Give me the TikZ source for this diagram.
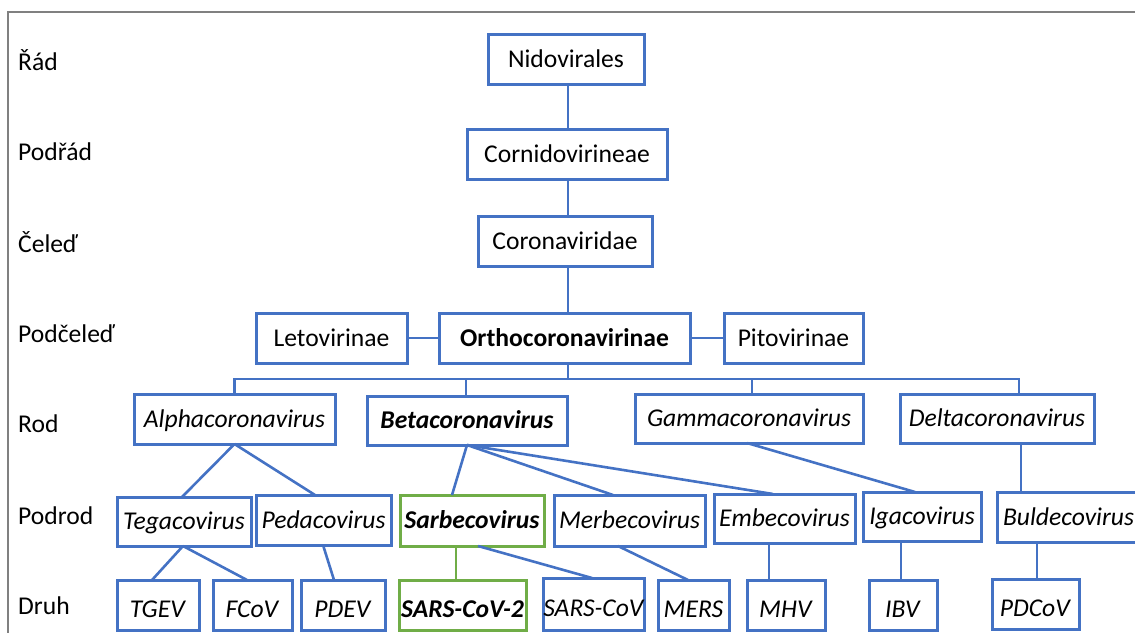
\documentclass[tikz,border=0pt]{standalone}
\usepackage{fontspec}
\setmainfont{Carlito}
\usetikzlibrary{calc}
\definecolor{bl}{HTML}{4472C4}
\definecolor{gr}{HTML}{70AD47}
\definecolor{fr}{HTML}{808080}
\tikzset{
  box/.style={draw=bl, line width=3pt, inner sep=0pt, outer sep=0pt, fill=white,
    font=\fontsize{25.6}{30}\selectfont, text height=19pt, text depth=3pt},
  gbox/.style={box, draw=gr},
  druhbox/.style={text height=24pt, text depth=0pt},
  conn/.style={draw=bl, line width=2.6pt},
  gconn/.style={draw=gr, line width=2.6pt},
  lvl/.style={anchor=base west, inner sep=0pt, font=\fontsize{25.6}{30}\selectfont},
  frame/.style={draw=fr, line width=1.8pt}
}
\newcommand{\bx}[7][box]{% style, name, cx, cy, w, h, text
  \node[#1, minimum width=#5pt, minimum height=#6pt] (#2) at (#3,#4) {#7};}
\begin{document}
\begin{tikzpicture}[x=1pt,y=-1pt]
\useasboundingbox (0,0) rectangle (1135,632);
\coordinate (fa) at (8,640);
\coordinate (fb) at (8,12);
\coordinate (fc) at (1140,12);
\draw[frame] (fa) -- (fb) -- (fc);

% level labels
\node[lvl] (l1) at (18,70) {Řád};
\node[lvl] (l2) at (18,160) {Podřád};
\node[lvl] (l3) at (18,252) {Čeleď};
\node[lvl] (l4) at (18,342) {Podčeleď};
\node[lvl] (l5) at (18,432) {Rod};
\node[lvl] (l6) at (18,524) {Podrod};
\node[lvl] (l7) at (18,614) {Druh};

% boxes
\bx{nido}{566}{59}{156}{50}{Nidovirales}
\bx{corni}{567}{154}{200}{50}{Cornidovirineae}
\bx{corona}{565}{241}{174}{50}{Coronaviridae}
\bx{leto}{331.5}{338}{151}{50}{Letovirinae}
\bx{ortho}{564.5}{338}{251}{50}{\textbf{Orthocoronavirinae}}
\bx{pito}{793.5}{338}{139}{50}{Pitovirinae}
\bx{alpha}{234.5}{419}{201}{50}{\textit{Alphacoronavirus}}
\bx{beta}{467}{420.5}{200}{49}{\textbf{\textit{Betacoronavirus}}}
\bx{gamma}{749}{418.5}{228}{49}{\textit{Gammacoronavirus}}
\bx{delta}{997}{418.5}{194}{49}{\textit{Deltacoronavirus}}
\bx{tega}{184}{521.5}{134}{49}{\textit{Tegacovirus}}
\bx{peda}{323.5}{520}{135}{50}{\textit{Pedacovirus}}
\bx[gbox]{sarbe}{472}{520.5}{144}{51}{\textbf{\textit{Sarbecovirus}}}
\bx{merbe}{629.5}{520.5}{151}{51}{\textit{Merbecovirus}}
\bx{embe}{784.5}{518.5}{141}{49}{\textit{Embecovirus}}
\bx{iga}{922}{516.5}{118}{49}{\textit{Igacovirus}}
\bx{bulde}{1068.5}{517}{143}{50}{\textit{Buldecovirus}}
\bx[box,druhbox]{tgev}{158}{605}{82}{50}{\textit{TGEV}}
\bx[box,druhbox]{fcov}{252.5}{605}{79}{50}{\textit{FCoV}}
\bx[box,druhbox]{pdev}{343}{605}{84}{50}{\textit{PDEV}}
\bx[gbox,druhbox]{sars2}{462.5}{605}{127}{50}{\textbf{\textit{SARS-CoV-2}}}
\bx[box,druhbox]{sars}{594}{604}{100}{52}{\textit{SARS-CoV}}
\bx[box,druhbox]{mers}{693.5}{605}{71}{50}{\textit{MERS}}
\bx[box,druhbox]{mhv}{786}{605}{78}{50}{\textit{MHV}}
\bx[box,druhbox]{ibv}{903}{605}{68}{50}{\textit{IBV}}
\bx[box,druhbox]{pdcov}{1035.5}{604}{87}{50}{\textit{PDCoV}}

% upper spine
\draw[conn] ([xshift=2pt]nido.south) -- ([xshift=1pt]corni.north);
\draw[conn] ([xshift=1pt]corni.south) -- ([xshift=3pt]corona.north);
\draw[conn] ([xshift=3pt]corona.south) -- ([xshift=3.5pt]ortho.north);
\draw[conn] (leto.east) -- (ortho.west);
\draw[conn] (ortho.east) -- (pito.west);

% bus to genera
\coordinate (busline) at (600,379);
\coordinate (otop) at ([xshift=3.5pt]ortho.south);
\coordinate (btop) at ([xshift=-1pt]beta.north);
\coordinate (gtop) at ([xshift=3pt]gamma.north);
\coordinate (dtop) at ([xshift=22pt]delta.north);
\draw[conn] (alpha.north) -- (alpha.north |- busline) -- (dtop |- busline) -- (dtop);
\draw[conn] (otop) -- (otop |- busline);
\draw[conn] (btop) -- (btop |- busline);
\draw[conn] (gtop) -- (gtop |- busline);

% genera to subgenera
\draw[conn] (alpha.south) -- ([xshift=-2pt]tega.north);
\draw[conn] (alpha.south) -- ([xshift=-8.5pt]peda.north);
\draw[conn] (beta.south) -- ([xshift=-20pt]sarbe.north);
\draw[conn] (beta.south) -- ([xshift=-16.5pt]merbe.north);
\draw[conn] (beta.south) -- ([xshift=-11.5pt]embe.north);
\draw[conn] ([xshift=-2pt]gamma.south) -- ([xshift=-7pt]iga.north);
\draw[conn] ([xshift=24pt]delta.south) -- ([xshift=-47.5pt]bulde.north);

% subgenera to species
\draw[conn] ([xshift=-1pt]tega.south) -- ([xshift=-6pt]tgev.north);
\draw[conn] ([xshift=-1pt]tega.south) -- ([xshift=-5.5pt]fcov.north);
\draw[conn] ([xshift=-0.5pt]peda.south) -- ([xshift=-9pt]pdev.north);
\draw[gconn] ([xshift=-16pt]sarbe.south) -- ([xshift=-6.5pt]sars2.north);
\draw[conn] ([xshift=6pt]sarbe.south) -- ([xshift=-2pt]sars.north);
\draw[conn] ([xshift=-11.5pt]merbe.south) -- ([xshift=-5.5pt]mers.north);
\draw[conn] ([xshift=-15.5pt]embe.south) -- ([xshift=-17pt]mhv.north);
\draw[conn] ([xshift=-21pt]iga.south) -- ([xshift=-2pt]ibv.north);
\draw[conn] ([xshift=-31.5pt]bulde.south) -- ([xshift=1.5pt]pdcov.north);
\end{tikzpicture}
\end{document}
